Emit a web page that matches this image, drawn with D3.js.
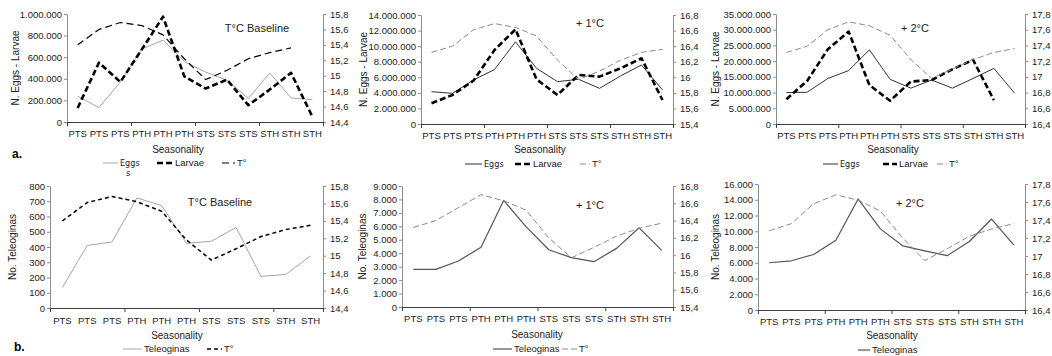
<!DOCTYPE html>
<html>
<head>
<meta charset="utf-8">
<script src="https://cdn.jsdelivr.net/npm/d3@7"></script>
<style>
  body { margin: 0; background: #fff; }
  svg { display: block; font-family: "Liberation Sans", Arial, sans-serif; }
  .axis text { font-size: 9.5px; fill: #222; }
  .axis.y path, .axis.y line { stroke: #8c8c8c; }
  .axis.x path, .axis.x line { stroke: #404040; }
  .label { font-size: 10px; fill: #222; }
  .title { font-size: 11px; fill: #222; }
  .legend { font-size: 9.5px; fill: #222; }
  .narrow { font-family: "Liberation Sans Narrow", "DejaVu Sans Condensed", sans-serif; font-size: 9px; }
</style>
</head>
<body>
<svg id="chart" width="1052" height="356"></svg>
<script>
// categories
const seasons = ['PTS', 'PTS', 'PTS', 'PTH', 'PTH', 'PTH', 'STS', 'STS', 'STS', 'STH', 'STH', 'STH'];
const seasonsShort = seasons.slice(0, 11);

// a. eggs / larvae
const baseEggs = [238000, 133000, 370000, 675000, 758000, 560000, 462000, 387000, 217000, 455000, 223000, 207000];
const baseLarvae = [130000, 550000, 370000, 670000, 975000, 422000, 310000, 392000, 155000, 300000, 455000, 50000];
const baseTempA = [15.4, 15.6, 15.69, 15.65, 15.53, 15.22, 14.95, 15.07, 15.22, 15.3, 15.36];

const plus1Eggs = [4150000, 3940000, 5650000, 7000000, 10550000, 7150000, 5440000, 5740000, 4580000, 6170000, 7580000, 4370000];
const plus1Larvae = [2660000, 3730000, 5570000, 9500000, 12160000, 5740000, 3730000, 6300000, 6080000, 7150000, 8440000, 3080000];
const plus1TempA = [16.32, 16.4, 16.61, 16.69, 16.64, 16.53, 16.22, 15.97, 16.08, 16.22, 16.32, 16.36];

const plus2Eggs = [10000000, 10100000, 14500000, 17000000, 23600000, 14200000, 11400000, 14000000, 11400000, 14500000, 17700000, 9800000];
const plus2Larvae = [7900000, 13700000, 23800000, 29400000, 12400000, 7400000, 13500000, 14000000, 17400000, 20400000, 7600000];
const plus2TempA = [17.31, 17.39, 17.6, 17.7, 17.65, 17.53, 17.22, 16.98, 17.1, 17.22, 17.31, 17.36];

// b. teleoginas
const baseTeleo = [135, 410, 433, 722, 672, 424, 438, 528, 207, 220, 342];
const baseTempB = [15.4, 15.61, 15.68, 15.62, 15.51, 15.18, 14.95, 15.08, 15.22, 15.3, 15.35];

const plus1Teleo = [2800, 2800, 3420, 4450, 7930, 5960, 4260, 3670, 3370, 4360, 5890, 4210];
const plus1TempB = [16.32, 16.4, 16.55, 16.7, 16.63, 16.52, 16.2, 15.97, 16.09, 16.22, 16.31, 16.37];

const plus2Teleo = [6000, 6250, 7050, 8850, 14100, 10300, 8150, 7500, 6900, 8700, 11550, 8250];
const plus2TempB = [17.28, 17.36, 17.58, 17.68, 17.62, 17.5, 17.2, 16.95, 17.08, 17.22, 17.3, 17.36];

const locale = d3.formatLocale({ decimal: ',', thousands: '.', grouping: [3], currency: ['', ''] });
const countFmt = locale.format(',d');
const tempFmt = locale.format('.1~f');

const svg = d3.select('#chart');

// line styles
const eggsGray = { stroke: '#a6a6a6', width: 1, dash: null };
const eggsDark = { stroke: '#333', width: 1, dash: null };
const larvaeStyle = { stroke: '#000', width: 2.6, dash: '6,3' };
const tempBlack = { stroke: '#000', width: 1.2, dash: '7,4' };
const tempGray = { stroke: '#8c8c8c', width: 1, dash: '6,3' };
const teleoGray = { stroke: '#a6a6a6', width: 1, dash: null };
const teleoDark = { stroke: '#555', width: 1.2, dash: null };
const tempBlackB = { stroke: '#000', width: 1.5, dash: '4,3' };

function drawPanel(p) {
  const n = p.cats.length;
  const x = d3.scaleBand().domain(d3.range(n)).range([p.left, p.right]);
  const xEdge = d3.scaleLinear().domain([0, n]).range([p.left, p.right]);
  const y = d3.scaleLinear().domain([0, p.yMax]).range([p.bottom, p.top]);
  const y2 = d3.scaleLinear().domain([p.tMin, p.tMin + 1.4]).range([p.bottom, p.top]);
  const g = svg.append('g');

  g.append('g')
    .attr('class', 'axis y')
    .attr('transform', 'translate(' + p.left + ',0)')
    .call(d3.axisLeft(y).tickValues(d3.range(0, p.yMax + 1, p.yStep))
      .tickSize(3).tickSizeOuter(0).tickPadding(2).tickFormat(countFmt));

  g.append('g')
    .attr('class', 'axis y')
    .attr('transform', 'translate(' + p.right + ',0)')
    .call(d3.axisRight(y2).tickValues(d3.range(8).map(i => p.tMin + i * 0.2))
      .tickSize(3).tickSizeOuter(0).tickPadding(4).tickFormat(tempFmt));

  // category labels
  g.append('g')
    .attr('class', 'axis x')
    .attr('transform', 'translate(0,' + p.bottom + ')')
    .call(d3.axisBottom(x).tickSize(0).tickPadding(p.labelPad).tickFormat(i => p.cats[i]))
    .call(a => a.select('.domain').remove());

  // axis line with group ticks
  g.append('g')
    .attr('class', 'axis x')
    .attr('transform', 'translate(0,' + p.bottom + ')')
    .call(d3.axisBottom(xEdge).tickValues([0, 3, 6, 9, n]).tickSize(4).tickSizeOuter(0).tickFormat(''));

  p.series.forEach(s => {
    const sc = s.right ? y2 : y;
    const line = d3.line()
      .x((d, i) => x(i) + x.bandwidth() / 2)
      .y(d => sc(d));
    g.append('path')
      .datum(s.values)
      .attr('fill', 'none')
      .attr('stroke', s.style.stroke)
      .attr('stroke-width', s.style.width)
      .attr('stroke-dasharray', s.style.dash)
      .attr('stroke-linejoin', 'round')
      .attr('d', line);
  });

  g.append('text')
    .attr('class', 'label')
    .attr('transform', 'translate(' + p.titleX + ',' + (p.top + p.bottom) / 2 + ') rotate(-90)')
    .attr('text-anchor', 'middle')
    .attr('dy', '0.35em')
    .text(p.yTitle);

  g.append('text')
    .attr('class', 'label')
    .attr('x', p.seasonX)
    .attr('y', p.seasonY)
    .attr('text-anchor', 'middle')
    .text('Seasonality');

  g.append('text')
    .attr('class', 'title')
    .attr('x', p.headX)
    .attr('y', p.headY)
    .attr('text-anchor', 'middle')
    .text(p.head);

  p.legend.forEach(l => {
    g.append('line')
      .attr('x1', l.x).attr('x2', l.x + l.len)
      .attr('y1', p.legendY).attr('y2', p.legendY)
      .attr('stroke', l.style.stroke)
      .attr('stroke-width', l.style.width)
      .attr('stroke-dasharray', l.style.dash);
    g.append('text')
      .attr('class', l.narrow ? 'legend narrow' : 'legend')
      .attr('x', l.x + l.len + 2)
      .attr('y', p.legendY)
      .attr('dy', '0.35em')
      .text(l.label);
  });
}

drawPanel({
  cats: seasons, left: 67, right: 323, top: 14, bottom: 122,
  yMax: 1000000, yStep: 200000, tMin: 14.4, labelPad: 8,
  titleX: 15, yTitle: 'N. Eggs - Larvae', seasonX: 178, seasonY: 153,
  head: 'T°C Baseline', headX: 257, headY: 32, legendY: 163,
  series: [
    { values: baseEggs, style: eggsGray },
    { values: baseLarvae, style: larvaeStyle },
    { values: baseTempA, style: tempBlack, right: true }
  ],
  legend: [
    { x: 103, len: 15, label: 'Eggs', style: eggsGray, narrow: true },
    { x: 157, len: 16, label: 'Larvae', style: larvaeStyle },
    { x: 222, len: 13, label: 'T°', style: tempBlack }
  ]
});
svg.append('text').attr('class', 'legend narrow').attr('x', 126).attr('y', 176).text('s');

drawPanel({
  cats: seasons, left: 421, right: 673, top: 15, bottom: 124,
  yMax: 14000000, yStep: 2000000, tMin: 15.4, labelPad: 8,
  titleX: 363, yTitle: 'N. Eggs - Larvae', seasonX: 540, seasonY: 153,
  head: '+ 1°C', headX: 590, headY: 27, legendY: 164,
  series: [
    { values: plus1Eggs, style: eggsDark },
    { values: plus1Larvae, style: larvaeStyle },
    { values: plus1TempA, style: tempGray, right: true }
  ],
  legend: [
    { x: 465, len: 17, label: 'Eggs', style: eggsDark, narrow: true },
    { x: 515, len: 16, label: 'Larvae', style: larvaeStyle },
    { x: 580, len: 10, label: 'T°', style: tempGray }
  ]
});

drawPanel({
  cats: seasons, left: 776, right: 1025, top: 14, bottom: 124,
  yMax: 35000000, yStep: 5000000, tMin: 16.4, labelPad: 8,
  titleX: 715, yTitle: 'N. Eggs - Larvae', seasonX: 893, seasonY: 153,
  head: '+ 2°C', headX: 915, headY: 32, legendY: 164,
  series: [
    { values: plus2Eggs, style: eggsDark },
    { values: plus2Larvae, style: larvaeStyle },
    { values: plus2TempA, style: tempGray, right: true }
  ],
  legend: [
    { x: 823, len: 15, label: 'Eggs', style: eggsDark, narrow: true },
    { x: 883, len: 14, label: 'Larvae', style: larvaeStyle },
    { x: 937, len: 10, label: 'T°', style: tempGray }
  ]
});

drawPanel({
  cats: seasonsShort, left: 50, right: 323, top: 186, bottom: 308,
  yMax: 800, yStep: 100, tMin: 14.4, labelPad: 9,
  titleX: 12, yTitle: 'No. Teleoginas', seasonX: 177, seasonY: 339,
  head: 'T°C Baseline', headX: 220, headY: 206, legendY: 349,
  series: [
    { values: baseTeleo, style: teleoGray },
    { values: baseTempB, style: tempBlackB, right: true }
  ],
  legend: [
    { x: 123, len: 19, label: 'Teleoginas', style: teleoGray },
    { x: 207, len: 15, label: 'T°', style: tempBlackB }
  ]
});

drawPanel({
  cats: seasons, left: 402, right: 673, top: 186, bottom: 307,
  yMax: 9000, yStep: 1000, tMin: 15.4, labelPad: 8,
  titleX: 362, yTitle: 'No. Teleoginas', seasonX: 537, seasonY: 338,
  head: '+ 1°C', headX: 590, headY: 209, legendY: 349,
  series: [
    { values: plus1Teleo, style: teleoDark },
    { values: plus1TempB, style: tempGray, right: true }
  ],
  legend: [
    { x: 493, len: 19, label: 'Teleoginas', style: teleoDark },
    { x: 562, len: 15, label: 'T°', style: tempGray }
  ]
});

drawPanel({
  cats: seasons, left: 758, right: 1025, top: 184, bottom: 310,
  yMax: 16000, yStep: 2000, tMin: 16.4, labelPad: 8,
  titleX: 715, yTitle: 'No. Teleoginas', seasonX: 892, seasonY: 339,
  head: '+ 2°C', headX: 910, headY: 207, legendY: 350,
  series: [
    { values: plus2Teleo, style: teleoDark },
    { values: plus2TempB, style: tempGray, right: true }
  ],
  legend: [
    { x: 858, len: 12, label: 'Teleoginas', style: teleoDark }
  ]
});

svg.append('text').attr('x', 12).attr('y', 158).attr('font-weight', 'bold').attr('font-size', 12).text('a.');
svg.append('text').attr('x', 14).attr('y', 351).attr('font-weight', 'bold').attr('font-size', 12).text('b.');
</script>
</body>
</html>
